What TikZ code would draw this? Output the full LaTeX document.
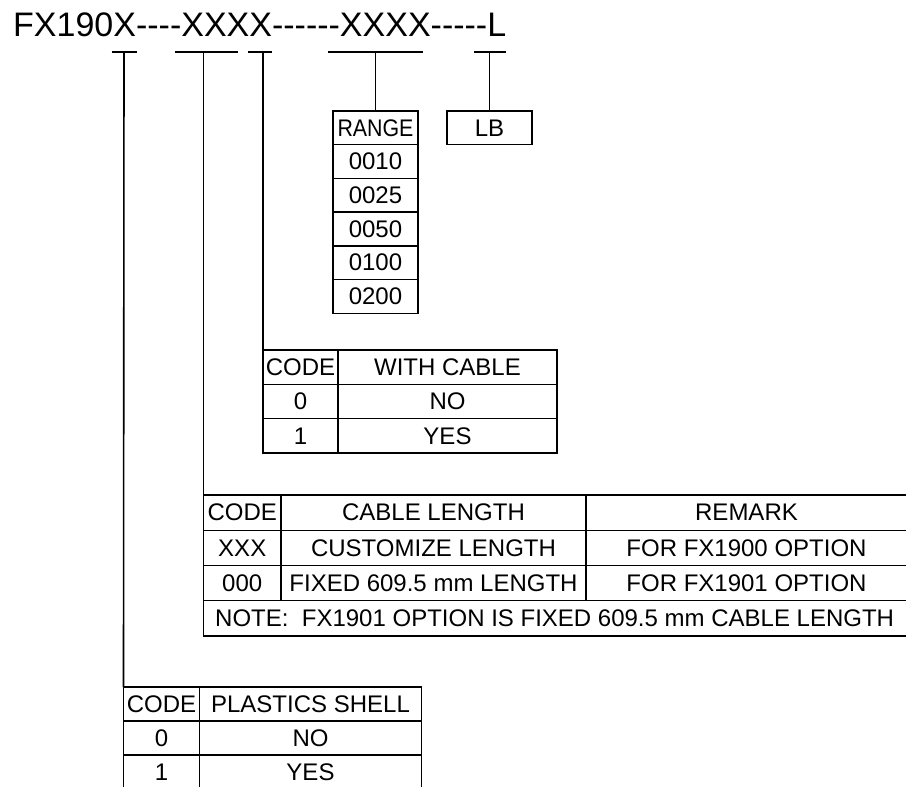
\documentclass[tikz,border=0pt]{standalone}
\usepackage{fontspec}
\setmainfont{Liberation Sans}
\newcommand{\hy}{\mbox{-}}
\tikzset{
  cell/.style={draw, line width=1.4pt, inner sep=0pt, outer sep=0pt,
    minimum height=34pt, font=\fontsize{24}{28}\selectfont},
  bar/.style={line width=1.6pt},
}
\begin{document}
\begin{tikzpicture}[x=1pt,y=-1pt]
    \useasboundingbox (0,0) rectangle (906,787);
    % part number
    \node[anchor=base west, inner sep=0pt, font=\fontsize{34}{40}\selectfont] (part) at (13,36)
      {FX190X\hy\hy\hy\hy XXXX\hy\hy\hy\hy\hy\hy XXXX\hy\hy\hy\hy\hy L};
    % code bars
    \coordinate (b1) at (124,52);
    \coordinate (b2) at (203.5,52);
    \coordinate (b3) at (263,52);
    \coordinate (b4) at (375.5,52);
    \coordinate (b5) at (489.5,52);
    \draw[bar] ([xshift=-12.5pt]b1) -- ([xshift=12.5pt]b1);
    \draw[bar] ([xshift=-28.5pt]b2) -- ([xshift=34.5pt]b2);
    \draw[bar] ([xshift=-15pt]b3) -- ([xshift=9pt]b3);
    \draw[bar] ([xshift=-47.5pt]b4) -- ([xshift=47.5pt]b4);
    \draw[bar] ([xshift=-15.5pt]b5) -- ([xshift=16.5pt]b5);
    % range
    \node[cell, minimum width=85pt, minimum height=33.7pt] (r0) at (375.5,127.85) {\scalebox{0.89}[1]{RANGE}};
    \node[cell, minimum width=85pt, minimum height=33.7pt] (r1) at (375.5,161.55) {0010};
    \node[cell, minimum width=85pt, minimum height=33.7pt] (r2) at (375.5,195.25) {0025};
    \node[cell, minimum width=85pt, minimum height=33.7pt] (r3) at (375.5,228.95) {0050};
    \node[cell, minimum width=85pt, minimum height=33.7pt] (r4) at (375.5,262.65) {0100};
    \node[cell, minimum width=85pt, minimum height=33.7pt] (r5) at (375.5,296.35) {0200};
    \node[cell, minimum width=85pt, minimum height=33.7pt] (lb) at (489.5,127.85) {LB};
    % with cable
    \node[cell, minimum width=75pt, minimum height=34.33pt] (w-code) at (300.5,367.15) {CODE};
    \node[cell, minimum width=219pt, minimum height=34.33pt] (w-head) at (447.5,367.15) {WITH CABLE};
    \node[cell, minimum width=75pt, minimum height=34.33pt] (w-c0) at (300.5,401.45) {0};
    \node[cell, minimum width=219pt, minimum height=34.33pt] (w-no) at (447.5,401.45) {NO};
    \node[cell, minimum width=75pt, minimum height=34.33pt] (w-c1) at (300.5,435.8) {1};
    \node[cell, minimum width=219pt, minimum height=34.33pt] (w-yes) at (447.5,435.8) {YES};
    % cable length
    \node[cell, minimum width=77.5pt, minimum height=35.25pt] (l-code) at (242.25,512.6) {CODE};
    \node[cell, minimum width=305pt, minimum height=35.25pt] (l-len) at (433.5,512.6) {CABLE LENGTH};
    \node[cell, minimum width=321pt, minimum height=35.25pt] (l-rem) at (746.5,512.6) {REMARK};
    \node[cell, minimum width=77.5pt, minimum height=35.25pt] (l-cx) at (242.25,547.9) {XXX};
    \node[cell, minimum width=305pt, minimum height=35.25pt] (l-custom) at (433.5,547.9) {CUSTOMIZE LENGTH};
    \node[cell, minimum width=321pt, minimum height=35.25pt] (l-r0) at (746.5,547.9) {FOR FX1900 OPTION};
    \node[cell, minimum width=77.5pt, minimum height=35.25pt] (l-c0) at (242.25,583.1) {000};
    \node[cell, minimum width=305pt, minimum height=35.25pt] (l-fixed) at (433.5,583.1) {FIXED 609.5 mm LENGTH};
    \node[cell, minimum width=321pt, minimum height=35.25pt] (l-r1) at (746.5,583.1) {FOR FX1901 OPTION};
    \node[cell, anchor=west, minimum width=703.5pt, minimum height=35.25pt] (l-note) at (203.5,618.4) {};
    \node[anchor=west, inner sep=0pt, font=\fontsize{24}{28}\selectfont] (note) at ([xshift=11.5pt]l-note.west)
      {NOTE:\ \ FX1901 OPTION IS FIXED 609.5 mm CABLE LENGTH};
    % plastics shell
    \node[cell, minimum width=76pt, minimum height=34pt] (p-code) at (161.5,704) {CODE};
    \node[cell, minimum width=222pt, minimum height=34pt] (p-head) at (310.5,704) {PLASTICS SHELL};
    \node[cell, minimum width=76pt, minimum height=34pt] (p-c0) at (161.5,738) {0};
    \node[cell, minimum width=222pt, minimum height=34pt] (p-no) at (310.5,738) {NO};
    \node[cell, minimum width=76pt, minimum height=34pt] (p-c1) at (161.5,772) {1};
    \node[cell, minimum width=222pt, minimum height=34pt] (p-yes) at (310.5,772) {YES};
    % connectors
    \draw[bar] (b1) -- (p-code.north west);
    \draw[bar] (b2) -- (l-code.north west);
    \draw[bar] (b3) -- (w-code.north west);
    \draw[bar] (b4) -- (r0.north);
    \draw[bar] (b5) -- (lb.north);
\end{tikzpicture}
\end{document}
